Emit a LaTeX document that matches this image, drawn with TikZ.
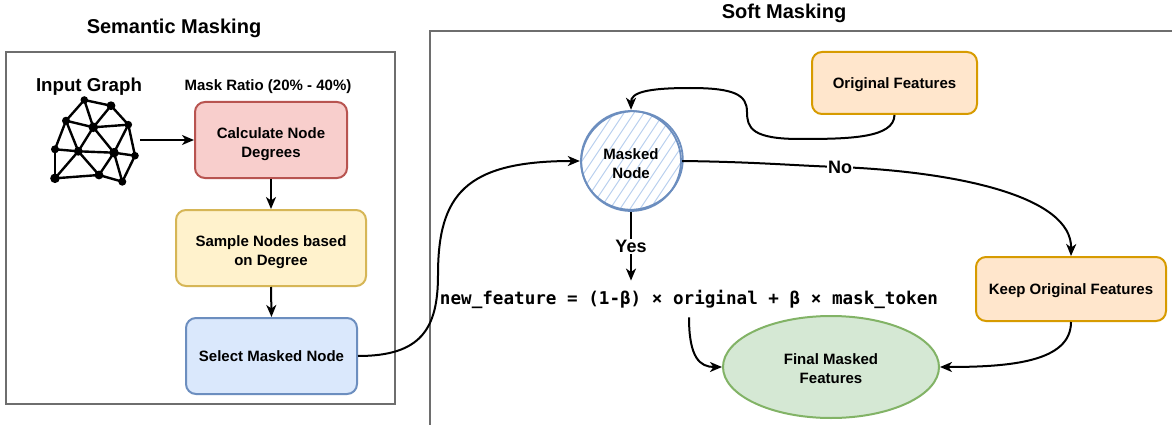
\documentclass[tikz,border=0pt]{standalone}
\usepackage{fontspec}
\setmainfont{Liberation Sans}
\newfontfamily\formulafont{DejaVu Sans Mono}
\usetikzlibrary{arrows.meta,calc,shapes.geometric}
\definecolor{redfill}{HTML}{F8CECC}
\definecolor{redline}{HTML}{B85450}
\definecolor{yelfill}{HTML}{FFF2CC}
\definecolor{yelline}{HTML}{D6B656}
\definecolor{bluefill}{HTML}{DAE8FC}
\definecolor{blueline}{HTML}{6C8EBF}
\definecolor{hatchcol}{HTML}{B4CDEE}
\definecolor{orafill}{HTML}{FFE6CC}
\definecolor{oraline}{HTML}{D79B00}
\definecolor{grnfill}{HTML}{D5E8D4}
\definecolor{grnline}{HTML}{82B366}
\definecolor{framecol}{HTML}{6E6E6E}
\newcommand\boxfont{\fontsize{15}{19}\selectfont\bfseries}
\newcommand\topstrut[1]{\rule{0pt}{#1}}
\tikzset{
  frame/.style={draw=framecol, line width=1.8pt},
  titletext/.style={font=\fontsize{20}{24}\selectfont\bfseries, inner sep=0pt},
  procbox/.style={rounded corners=10pt, line width=2pt, align=center, font=\boxfont, inner sep=0pt, text depth=0pt},
  arr/.style={line width=2pt, -{Stealth[length=12pt,width=10pt,inset=3.5pt]}},
  lbl/.style={fill=white, font=\fontsize{18}{20}\selectfont\bfseries, inner sep=1pt},
  gedge/.style={line width=2.4pt, line join=round},
  hatchline/.style={draw=hatchcol, line width=0.9pt},
  sketch/.style={draw=blueline, line width=1.8pt}
}
\begin{document}
\begin{tikzpicture}[x=1pt,y=-1pt]
\fill[white] (0,0) rectangle (1172,425);
\useasboundingbox (0,0) rectangle (1172,425);

% frames
\draw[frame] (6,52) rectangle (395,404);
\draw[frame] (430,31) rectangle (1190,440);
\node[titletext] (semtitle) at (174,28) {Semantic Masking};
\node[titletext] (softtitle) at (784,13) {Soft Masking};

% input graph
\node[font=\fontsize{18.7}{22}\selectfont\bfseries, inner sep=0pt] (inlabel) at (89,87) {Input Graph};
\node[font=\fontsize{15}{18}\selectfont\bfseries, inner sep=0pt] (ratio) at (268,87) {Mask Ratio (20\% - 40\%)};
\coordinate (g1) at (84.3,100);
\coordinate (g2) at (111,105.7);
\coordinate (g3) at (66,120.7);
\coordinate (g4) at (93.3,127.3);
\coordinate (g5) at (128.3,124.7);
\coordinate (g6) at (55,149.3);
\coordinate (g7) at (78.3,151.3);
\coordinate (g8) at (114,152.7);
\coordinate (g9) at (135,155.7);
\coordinate (g10) at (55,178.3);
\coordinate (g11) at (99,175);
\coordinate (g12) at (122.3,181.7);
\foreach \a/\b in {g1/g2,g1/g3,g1/g4,g2/g4,g2/g5,g3/g4,g3/g6,g3/g7,g4/g7,g4/g5,g4/g8,g5/g8,g5/g9,g6/g7,g6/g10,g7/g8,g7/g10,g7/g11,g8/g11,g8/g9,g8/g12,g9/g12,g10/g11,g11/g12}
  \draw[gedge] (\a) -- (\b);
\foreach \n/\r in {g1/3.8,g2/4.4,g3/4,g4/4.8,g5/3.8,g6/4,g7/4.4,g8/4.8,g9/3.8,g10/4.8,g11/4.4,g12/4}
  \fill (\n) circle[radius=\r pt];
\coordinate (gout) at (140,140);

% left process boxes
\node[procbox, draw=redline, fill=redfill, minimum width=152pt, minimum height=76pt] (calc) at (271,140) {\topstrut{16pt}Calculate Node\\Degrees};
\node[procbox, draw=yelline, fill=yelfill, minimum width=190pt, minimum height=76pt] (sample) at (271,248) {\topstrut{16pt}Sample Nodes based\\on Degree};
\node[procbox, draw=blueline, fill=bluefill, minimum width=171pt, minimum height=76pt] (select) at (271.5,356) {Select Masked Node};

\draw[arr] (gout) -- (calc.west);
\draw[arr] (calc.south) -- (sample.north);
\draw[arr] (sample.south) -- (select.north);

% masked node (hatched sketch circle)
\begin{scope}
  \clip (631,161) circle[radius=50pt];
  \foreach \i in {-150,-140,...,150}
    \draw[hatchline] (631+\i-45,230) -- (631+\i+45,95);
\end{scope}
\node[circle, minimum size=102pt, inner sep=0pt, align=center, font=\boxfont, text depth=0pt] (masked) at (631,161) {\topstrut{15pt}Masked\\Node};
\draw[sketch] (631,161) circle[radius=50pt];
\draw[sketch, rotate around={20:(632,160.5)}] (632,160.5) ellipse[x radius=51pt, y radius=49pt];

% right boxes
\node[procbox, draw=oraline, fill=orafill, minimum width=165pt, minimum height=62pt] (orig) at (894.5,83) {Original Features};
\node[procbox, draw=oraline, fill=orafill, minimum width=190pt, minimum height=64pt] (keep) at (1071,289) {Keep Original Features};
\node[ellipse, draw=grnline, fill=grnfill, line width=2pt, minimum width=216pt, minimum height=102pt, inner sep=0pt, align=center, font=\boxfont, text depth=0pt] (final) at (831,367) {\topstrut{13pt}Final Masked\\Features};
\node[font=\formulafont\bfseries\fontsize{17.6}{20}\selectfont, inner xsep=0pt, inner ysep=9pt] (formula) at (689,299) {new\_feature = (1-β) × original + β × mask\_token};

% connectors
\draw[arr] (select.east) .. controls (420,356) and (438,330) .. (438,275) .. controls (438,195) and (465,161) .. (masked.west);
\draw[arr] (orig.south) .. controls (894,138) and (850,139) .. (800,139) .. controls (752,139) and (747,128) .. (747,112) .. controls (747,95) and (735,88) .. (690,88) .. controls (645,88) and (631,93) .. (masked.north);
\draw[arr] (masked.east) .. controls (760,162) and (800,166) .. (840,167) node[lbl] {No} .. controls (960,172) and (1072,197) .. (keep.north);
\draw[arr] (masked.south) -- node[lbl] {Yes} (masked.south |- formula.north);
\draw[arr] (formula.south) .. controls (689,358) and (700,367) .. (final.west);
\draw[arr] (keep.south) .. controls (1071,362) and (1010,367) .. (final.east);
\end{tikzpicture}
\end{document}
